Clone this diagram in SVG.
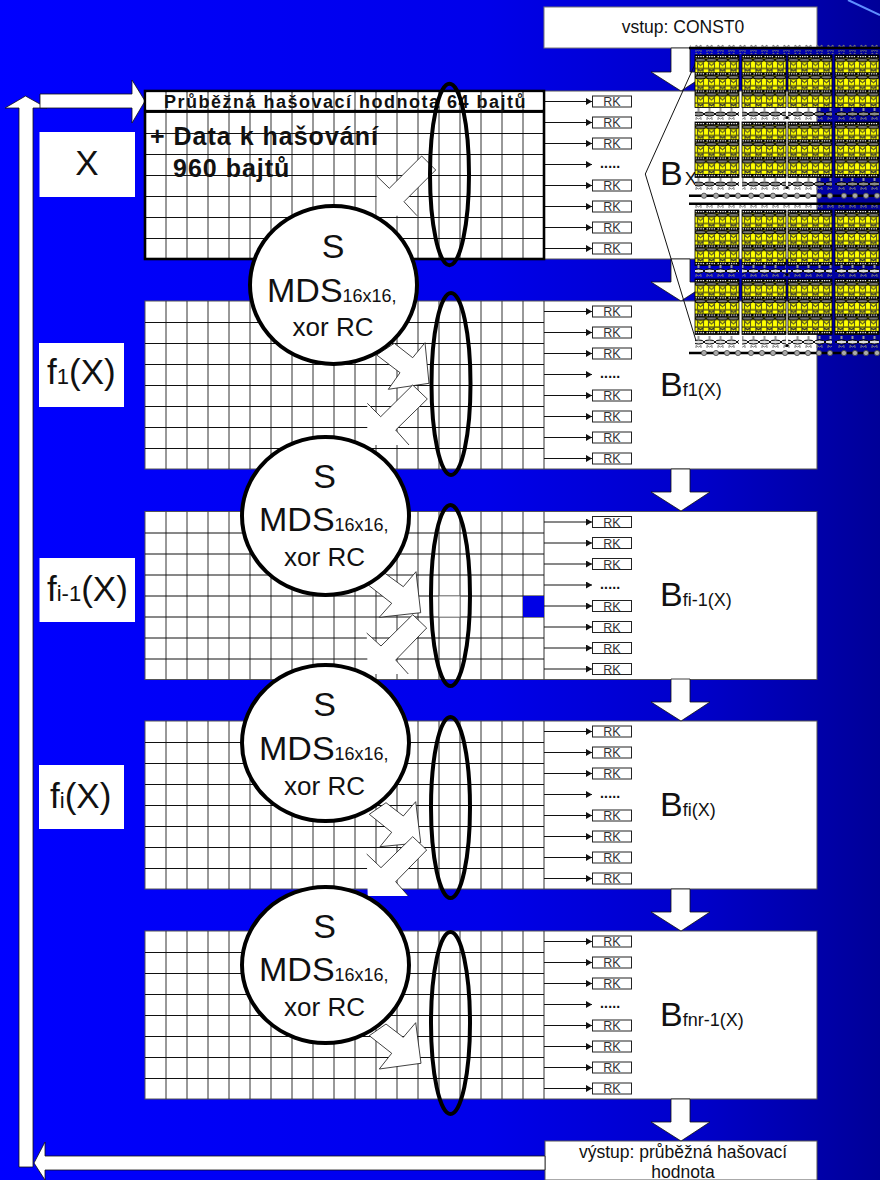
<svg xmlns="http://www.w3.org/2000/svg" width="880" height="1180" viewBox="0 0 880 1180">
<style>
text{font-family:"Liberation Sans",Arial,sans-serif;fill:#111}
.panel{fill:#fff;stroke:#555;stroke-width:1}
.grid{fill:none;stroke:#333;stroke-width:1}
.gridh{fill:none;stroke:#111;stroke-width:1}
.wa{fill:#fff;stroke:#111;stroke-width:.8;stroke-linejoin:miter}
.wf{fill:#fff;stroke:none}
.we{fill:none;stroke:#111;stroke-width:.8}
.lbl{fill:#fff}
.rk{fill:#fff;stroke:#222;stroke-width:1}
.rkt{font-size:12.5px;text-anchor:middle;fill:#333}
.ra{stroke:#111;stroke-width:1;marker-end:url(#ah)}
.oval{fill:none;stroke:#000;stroke-width:4}
.circ{fill:#fff;stroke:#000;stroke-width:4}
.s{font-size:34px;text-anchor:middle}
.xr{font-size:26px;text-anchor:middle}
.b{font-size:34px}
.sub{font-size:18px}
.tl{font-size:35px}
.sl{font-size:22px}
.thick{stroke:#000;stroke-width:2.6}
.io{font-size:17.5px;text-anchor:middle}
.bh{font-weight:bold;fill:#111}
</style>
<defs>
<linearGradient id="bg" x1="0" y1="0" x2="1" y2="0">
<stop offset="0" stop-color="#0000ff"/><stop offset=".55" stop-color="#0000ea"/><stop offset=".8" stop-color="#0000c8"/><stop offset="1" stop-color="#000098"/>
</linearGradient>
<marker id="ah" markerUnits="userSpaceOnUse" markerWidth="7" markerHeight="8" refX="6" refY="3.5" orient="auto"><path d="M0 0L6 3.5L0 7Z" fill="#111"/></marker>
<pattern id="tile" patternUnits="userSpaceOnUse" width="11" height="17.3">
<rect width="11" height="17.3" fill="#ff0"/>
<rect width="11" height="3.4" fill="#000"/>
<path d="M.5 1.6h1.4m1 0h1.4m1 0h1.4m1 0h1.4" stroke="#fff" stroke-width="1.2"/>
<ellipse cx="5.5" cy="5" rx="5.4" ry="1.6" fill="#777" stroke="#000" stroke-width="1"/>
<path d="M2.500 13V7.500L5.500 10.500L8.500 7.500V13" fill="none" stroke="#5a5a20" stroke-width="1.100"/>
<path d="M0 13.500H11" stroke="#111" stroke-width="1"/>
<path d="M3 17V14.500L5.500 16L8 14.500V17" fill="none" stroke="#333" stroke-width="1.200"/>
</pattern>
<pattern id="ellg" patternUnits="userSpaceOnUse" width="11" height="12">
<path d="M5.5 0v3" stroke="#999" stroke-width="2"/>
<ellipse cx="5.5" cy="6" rx="5.4" ry="2" fill="#888" stroke="#000" stroke-width="1"/>
<path d="M3 12V9.5L5.5 11L8 9.5V12" stroke="#777" fill="none"/>
</pattern>
<pattern id="ellw" patternUnits="userSpaceOnUse" width="11" height="12">
<path d="M5.5 0v3" stroke="#999" stroke-width="2"/>
<ellipse cx="5.5" cy="6" rx="5.4" ry="2" fill="#ddd" stroke="#000" stroke-width="1"/>
<path d="M3 12V9.5L5.5 11L8 9.5V12" stroke="#777" fill="none"/>
</pattern>
<pattern id="tick" patternUnits="userSpaceOnUse" width="11" height="4">
<path d="M3 4V1L5.5 3L8 1V4" stroke="#777" fill="none"/>
</pattern>
<g id="blk"><rect width="44" height="52.500" fill="url(#tile)" stroke="#000" stroke-width=".8"/></g>
<g id="blkt"><rect width="44" height="55.500" fill="url(#tile)" stroke="#000" stroke-width=".8"/></g>
<g id="row52"><use href="#blk" x="695"/><use href="#blk" x="742"/><use href="#blk" x="788"/><use href="#blk" x="835"/></g>
<g id="row55"><use href="#blkt" x="695"/><use href="#blkt" x="742"/><use href="#blkt" x="788"/><use href="#blkt" x="835"/></g>
<g id="eg"><rect width="44" height="12" x="695" fill="url(#ellg)"/><rect width="44" height="12" x="742" fill="url(#ellg)"/><rect width="44" height="12" x="788" fill="url(#ellg)"/><rect width="44" height="12" x="835" fill="url(#ellg)"/><circle cx="787" cy="9.5" r="1.6" fill="#000"/></g>
<g id="ew"><rect width="44" height="12" x="695" fill="url(#ellw)"/><rect width="44" height="12" x="742" fill="url(#ellw)"/><rect width="44" height="12" x="788" fill="url(#ellw)"/><rect width="44" height="12" x="835" fill="url(#ellw)"/><circle cx="787" cy="9.5" r="1.6" fill="#000"/></g>
<g id="cl"><line class="thick" x1="689" x2="880" y1="0" y2="0"/><g fill="#aaa" stroke="#444" stroke-width=".8"><circle cx="704" r="2.6"/><circle cx="716" r="2.6"/><circle cx="727" r="2.6"/><circle cx="738" r="2.6"/><circle cx="751" r="2.6"/><circle cx="762" r="2.6"/><circle cx="773" r="2.6"/><circle cx="785" r="2.6"/><circle cx="797" r="2.6"/><circle cx="808" r="2.6"/><circle cx="819" r="2.6"/><circle cx="830" r="2.6"/><circle cx="844" r="2.6"/><circle cx="855" r="2.6"/><circle cx="866" r="2.6"/><circle cx="877" r="2.6"/></g></g>
<g id="cells">
<rect class="panel" x="145" y="0" width="672" height="168"/>
<path class="grid" d="M166 0V168M187 0V168M208 0V168M229 0V168M250 0V168M271 0V168M292 0V168M313 0V168M334 0V168M355 0V168M376 0V168M397 0V168M418 0V168M439 0V168M460 0V168M481 0V168M502 0V168M523 0V168M544 0V168"/>
<path class="gridh" d="M145 21.5H544M145 42.5H544M145 63.5H544M145 84.5H544M145 105.5H544M145 126.5H544M145 147.5H544"/>
</g>
<g id="rks">
<g class="rk"><rect x="592.5" y="5" width="39" height="11"/><rect x="592.5" y="26" width="39" height="11"/><rect x="592.5" y="47" width="39" height="11"/><rect x="592.5" y="89" width="39" height="11"/><rect x="592.5" y="110" width="39" height="11"/><rect x="592.5" y="131" width="39" height="11"/><rect x="592.5" y="152" width="39" height="11"/></g>
<text class="rkt" x="612" y="15">RK</text><text class="rkt" x="612" y="36">RK</text><text class="rkt" x="612" y="57">RK</text>
<text x="600" y="77" font-size="14" font-weight="bold" letter-spacing=".2">.....</text>
<text class="rkt" x="612" y="99">RK</text><text class="rkt" x="612" y="120">RK</text><text class="rkt" x="612" y="141">RK</text><text class="rkt" x="612" y="162">RK</text>
</g>
<g id="rkarrows">
<path class="ra" d="M544 10.500H592"/><path class="ra" d="M544 31.500H592"/><path class="ra" d="M544 52.500H592"/><path class="ra" d="M544 73.500H592"/><path class="ra" d="M544 94.500H592"/><path class="ra" d="M544 115.500H592"/><path class="ra" d="M544 136.500H592"/><path class="ra" d="M544 157.500H592"/>
</g>
<g id="downhead"><path class="wa" d="M671 0V23H651L681 42L710 23H690V0Z"/></g>
</defs>

<rect width="880" height="1180" fill="url(#bg)"/>
<line x1="848" y1="0" x2="880" y2="15" stroke="#5f8fff" stroke-width="2"/>

<g id="panel-1"><use href="#cells" y="91"/><use href="#rks" y="91"/></g>
<g id="panel-2"><use href="#cells" y="301"/><use href="#rks" y="301"/></g>
<g id="panel-3"><use href="#cells" y="511.500"/><use href="#rks" y="511.500"/>
<rect x="439" y="596" width="21" height="21" fill="#fff" stroke="#999"/><rect x="523" y="596" width="21" height="21" fill="#0000e6"/></g>
<g id="panel-4"><use href="#cells" y="721"/><use href="#rks" y="721"/></g>
<g id="panel-5"><use href="#cells" y="931"/><use href="#rks" y="931"/></g>

<g id="node-input"><rect x="544" y="7" width="273" height="41" fill="#fff" stroke="#777"/><text class="io" x="683" y="33">vstup: CONST0</text></g>
<g id="node-output"><rect x="545" y="1141" width="272" height="39" fill="#fff" stroke="#555"/><text class="io" x="683" y="1158">výstup: průběžná hašovací</text><text class="io" x="683" y="1178">hodnota</text></g>

<g id="connectors">
<use href="#rkarrows" y="91"/><use href="#rkarrows" y="301"/><use href="#rkarrows" y="511.500"/><use href="#rkarrows" y="721"/><use href="#rkarrows" y="931"/>
<path class="wa" d="M671 48V72H651L681 91L710 72H690V48Z"/>
<use href="#downhead" y="259"/><use href="#downhead" y="469"/><use href="#downhead" y="679"/><use href="#downhead" y="889"/><use href="#downhead" y="1099"/>
<path class="wa" d="M19 1167V108H5L25.500 96L47 108H33V1167Z"/>
<path class="wa" d="M40 94H132V80L145 101L132 123V108H40Z"/>
<path class="wa" d="M545 1156H45V1142L34 1163L45 1180V1170H545Z"/>
<g id="flow-1"><polygon class="wf" points="376.700,176 389.300,188.300 421.700,156 435.700,170 404,201.700 417,215.700 376.700,215.700"/><polyline class="we" points="376.700,176 389.300,188.300 421.700,156 435.700,170 404,201.700 417,215.700"/></g>
<polygon id="flow-2a" class="wa" points="394.300,343.300 412.700,357.700 425,342.700 429,383.300 388.300,389.300 400,372.700 376.700,355"/>
<g id="flow-2b"><polygon class="wf" points="412.700,385 427.300,399 395.700,430 409,445 367.300,445 367.300,403.300 380.700,416.700"/><polyline class="we" points="367.300,403.300 380.700,416.700 412.700,385 427.300,399 395.700,430 409,445"/></g>
<polygon id="flow-3a" class="wa" points="385,573.300 403.300,586.700 416,571.700 420.700,612.700 379.300,617.300 391.700,603.300 368.300,585"/>
<g id="flow-3b"><polygon class="wf" points="412.700,614.700 426.700,628 395.700,660 408.300,674 367.700,674 366.700,633 381,646"/><polyline class="we" points="366.700,633 381,646 412.700,614.700 426.700,628 395.700,660 408.300,674"/></g>
<polygon id="flow-4a" class="wa" points="386,802.700 403.300,816 415.700,801.700 420.700,842.700 380,846.700 391.700,832.300 369.300,814.300"/>
<g id="flow-4b"><polygon class="wf" points="412.700,836.700 426.700,850 395.700,881.700 408.300,896 367.700,896 366.700,854 381,867.700"/><polyline class="we" points="366.700,854 381,867.700 412.700,836.700 426.700,850 395.700,881.700 408.300,896"/></g>
<polygon id="flow-5a" class="wa" points="386,1024 403.300,1037.300 415.700,1022.700 421,1063.300 379.300,1069 391.700,1053.300 369.300,1035.700"/>
</g>

<g id="label-hdr" class="bh"><rect x="145" y="91" width="399" height="168" fill="none" stroke="#000" stroke-width="2.6"/><line x1="145" x2="544" y1="111" y2="111" stroke="#000" stroke-width="2.6"/>
<rect x="146.500" y="92.500" width="396" height="17" fill="#fff"/><path class="grid" d="M166 92V110M187 92V110M208 92V110M229 92V110M250 92V110M271 92V110M292 92V110M313 92V110M334 92V110M355 92V110M376 92V110M397 92V110M418 92V110M439 92V110M460 92V110M481 92V110M502 92V110M523 92V110"/>
<text class="bh" x="164" y="107.500" font-size="18" letter-spacing="1.500">Průběžná hašovací hodnota 64 bajtů</text>
<text class="bh" x="150" y="145" font-size="25" letter-spacing="1">+ Data k hašování</text>
<text class="bh" x="173" y="177" font-size="25" letter-spacing="1">960 bajtů</text></g>

<g id="ovals"><ellipse class="oval" cx="449.500" cy="174.500" rx="19.500" ry="90.700"/><ellipse class="oval" cx="451" cy="384" rx="19.500" ry="91"/><ellipse class="oval" cx="450.500" cy="595.500" rx="19.500" ry="90.500"/><ellipse class="oval" cx="450.500" cy="807.500" rx="19.500" ry="90.500"/><ellipse class="oval" cx="450.500" cy="1023" rx="19.500" ry="91"/></g>

<g id="node-s1"><ellipse class="circ" cx="333.500" cy="285" rx="83.500" ry="79"/><text class="s" x="333" y="258">S</text><text x="267" y="301.500" font-size="34">MDS<tspan font-size="18">16x16,</tspan></text><text class="xr" x="333" y="336">xor RC</text></g>
<g id="node-s2"><ellipse class="circ" cx="325.500" cy="516" rx="83.500" ry="79"/><text class="s" x="324.500" y="488">S</text><text x="259" y="531" font-size="34">MDS<tspan font-size="18">16x16,</tspan></text><text class="xr" x="324.500" y="566">xor RC</text></g>
<g id="node-s3"><ellipse class="circ" cx="325.500" cy="743" rx="83.500" ry="78"/><text class="s" x="324.500" y="716">S</text><text x="259" y="760" font-size="34">MDS<tspan font-size="18">16x16,</tspan></text><text class="xr" x="324.500" y="795">xor RC</text></g>
<g id="node-s4"><ellipse class="circ" cx="325.500" cy="965" rx="83.500" ry="78"/><text class="s" x="324.500" y="938">S</text><text x="259" y="981" font-size="34">MDS<tspan font-size="18">16x16,</tspan></text><text class="xr" x="324.500" y="1016">xor RC</text></g>

<g id="node-x"><rect class="lbl" x="39.500" y="132" width="95.500" height="65"/><text class="tl" x="87" y="175" text-anchor="middle">X</text></g>
<g id="node-f1"><rect class="lbl" x="39" y="343" width="85" height="64"/><text class="tl" x="47" y="384">f<tspan class="sl">1</tspan>(X)</text></g>
<g id="node-fi1"><rect class="lbl" x="39.500" y="558" width="95.500" height="64"/><text class="tl" x="47" y="601">f<tspan class="sl">i-1</tspan>(X)</text></g>
<g id="node-fi"><rect class="lbl" x="39" y="765" width="85" height="64"/><text class="tl" x="50" y="808">f<tspan class="sl">i</tspan>(X)</text></g>

<g id="node-bx"><text class="b" x="660" y="185">B<tspan class="sub" dx="2">X</tspan></text></g>
<g id="node-bf1"><text class="b" x="660" y="396">B<tspan class="sub">f1(X)</tspan></text></g>
<g id="node-bfi1"><text class="b" x="660" y="606">B<tspan class="sub">fi-1(X)</tspan></text></g>
<g id="node-bfi"><text class="b" x="660" y="816">B<tspan class="sub">fi(X)</tspan></text></g>
<g id="node-bfnr"><text class="b" x="660" y="1026">B<tspan class="sub">fnr-1(X)</tspan></text></g>

<polyline id="bracket" points="696,62 645.300,174 696.700,343" fill="none" stroke="#111" stroke-width="1"/>

<g id="zoom-detail">
<rect x="690" y="44" width="190" height="3" fill="url(#tick)"/>
<line class="thick" x1="689" x2="880" y1="48" y2="48"/>
<rect x="695" y="50" width="185" height="4" fill="url(#tick)"/>
<use href="#row52" y="55"/><use href="#eg" y="108"/>
<use href="#row55" y="122"/><use href="#eg" y="178"/>
<use href="#cl" y="195.700"/><line class="thick" x1="689" x2="880" y1="203.700" y2="203.700"/>
<rect x="695" y="205" width="185" height="4" fill="url(#tick)"/>
<use href="#row55" y="210"/><use href="#ew" y="265"/>
<use href="#row55" y="279"/><use href="#ew" y="336"/>
<use href="#cl" y="353"/>
</g>
</svg>
